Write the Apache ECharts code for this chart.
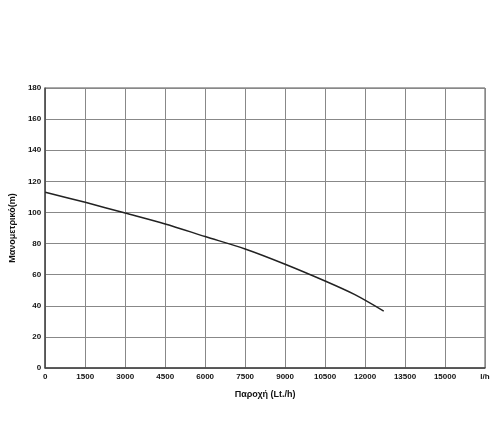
<!DOCTYPE html>
<html><head><meta charset="utf-8">
<script src="https://cdn.jsdelivr.net/npm/echarts@6/dist/echarts.min.js"></script>
<style>html,body{margin:0;padding:0;background:#fff}#c{width:500px;height:440px}</style>
</head><body><div id="c"></div>
<script>
const flow = [0, 1500, 3000, 4500, 6000, 7500, 9000, 10500, 11600, 12700];
const head = [113, 106.5, 99.6, 92.6, 84.5, 76.5, 66.7, 55.9, 47.3, 36.6];
const xName = 'Παροχή (Lt./h)';
const yName = 'Μανομετρικό(m)';
const xUnit = 'l/h';

const chart = echarts.init(document.getElementById('c'));
const font = 'Liberation Sans, Arial, sans-serif';
chart.setOption({
  animation: false,
  grid: {left: 43, right: 15, top: 88, bottom: 72, show: true, borderColor: '#555', borderWidth: 1},
  xAxis: {
    type: 'value', min: 0, max: 16500, interval: 1500,
    name: xName, nameLocation: 'middle', nameGap: 22,
    nameTextStyle: {fontFamily: font, fontWeight: 'bold', fontSize: 9, color: '#111'},
    axisLine: {show: true, lineStyle: {color: '#444', width: 1.5}},
    axisTick: {show: false},
    axisLabel: {fontFamily: font, fontWeight: 'bold', fontSize: 8, color: '#111', margin: 5,
      formatter: v => v === 16500 ? xUnit : String(v)},
    splitLine: {show: true, lineStyle: {color: '#888', width: 1}}
  },
  yAxis: {
    type: 'value', min: 0, max: 180, interval: 20,
    name: yName, nameLocation: 'middle', nameGap: 21,
    nameTextStyle: {fontFamily: font, fontWeight: 'bold', fontSize: 9, color: '#111'},
    axisLine: {show: true, lineStyle: {color: '#444', width: 1.5}},
    axisTick: {show: false},
    axisLabel: {fontFamily: font, fontWeight: 'bold', fontSize: 8, color: '#111', margin: 4},
    splitLine: {show: true, lineStyle: {color: '#888', width: 1}}
  },
  series: [{
    type: 'line', smooth: 0.3, symbol: 'none',
    data: flow.map((f, i) => [f, head[i]]),
    lineStyle: {color: '#222', width: 1.5}
  }]
});
</script></body></html>
